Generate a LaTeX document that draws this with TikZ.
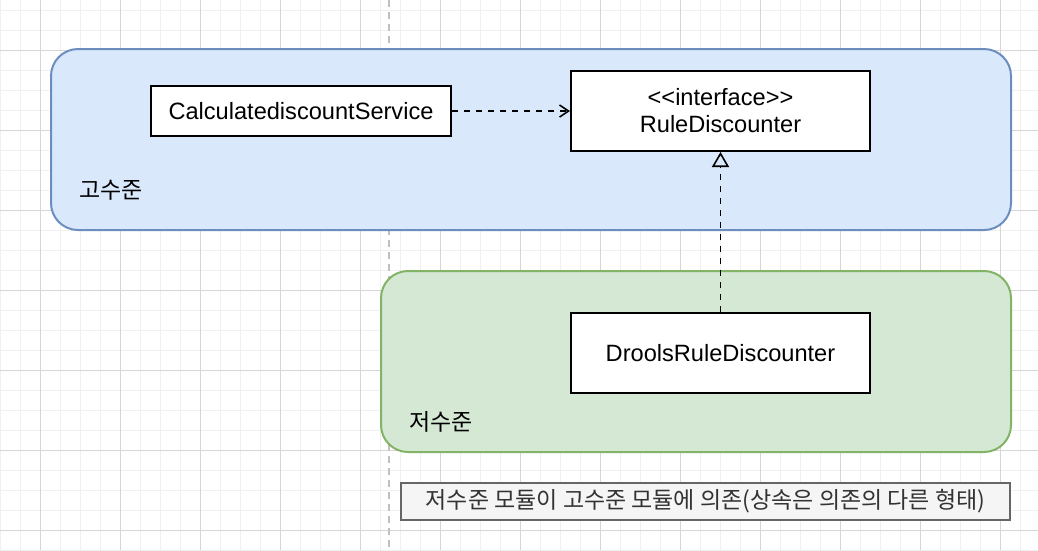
\documentclass[tikz,border=0pt]{standalone}
\usepackage{fontspec}
\setmainfont{Liberation Sans}
\newfontfamily\kr{Noto Sans CJK KR}
\usetikzlibrary{arrows.meta}
\definecolor{bluefill}{HTML}{DAE8FC}
\definecolor{bluedraw}{HTML}{6C8EBF}
\definecolor{greenfill}{HTML}{D5E8D4}
\definecolor{greendraw}{HTML}{82B366}
\definecolor{notefill}{HTML}{F5F5F5}
\definecolor{notedraw}{HTML}{666666}
\definecolor{notetext}{HTML}{333333}
\definecolor{gridminor}{HTML}{F0F0F0}
\definecolor{gridmajor}{HTML}{D6D6D6}
\definecolor{guide}{HTML}{C0C0C0}
\tikzset{
  container/.style={line width=2pt, rounded corners=27pt},
  classbox/.style={draw=black, fill=white, line width=2pt, align=center,
    font=\fontsize{23.6}{27}\selectfont, inner sep=0pt},
  lvl/.style={anchor=west, font=\kr\fontsize{23}{27}\selectfont, inner sep=0pt},
  dep/.style={line width=1.6pt, dash pattern=on 6pt off 6pt},
}
\begin{document}
\begin{tikzpicture}[x=1pt,y=-1pt]
\useasboundingbox (0,0) rectangle (1038,550);
% grid
\foreach \x in {0,20,...,1040} \draw[gridminor, line width=1pt] (\x,0) -- (\x,550);
\foreach \y in {10,30,...,550} \draw[gridminor, line width=1pt] (0,\y) -- (1038,\y);
\foreach \x in {40,120,...,1040} \draw[gridmajor, line width=1pt] (\x,0) -- (\x,550);
\foreach \y in {50,130,...,550} \draw[gridmajor, line width=1pt] (0,\y) -- (1038,\y);
% guide line
\draw[guide, line width=2pt, dash pattern=on 7pt off 5pt] (389,0) -- (389,550);
% containers
\draw[container, fill=bluefill, draw=bluedraw] (51,49) rectangle (1011,230);
\draw[container, fill=greenfill, draw=greendraw] (381,271) rectangle (1011,452);
\node[lvl] (hi) at (79,190) {고수준};
\node[lvl] (lo) at (409,422) {저수준};
% classes
\node[classbox, minimum width=300pt, minimum height=50pt] (calc) at (301,111) {CalculatediscountService};
\node[classbox, minimum width=299pt, minimum height=80pt] (rule) at (720.5,111) {<\kern0pt<interface>\kern0pt>\\RuleDiscounter};
\node[classbox, minimum width=299pt, minimum height=80pt] (drools) at (720.5,353) {DroolsRuleDiscounter};
% connectors
\draw[dep, -{Straight Barb[length=9pt, width=12pt, line width=1.6pt]}] (calc.east) -- (rule.west);
\draw[dep, -{Triangle[open, length=15pt, width=17pt, line width=1.6pt]}] (drools.north) -- (rule.south);
% note
\node[draw=notedraw, fill=notefill, line width=2pt, text=notetext, minimum width=609pt, minimum height=37pt, inner sep=0pt,
  font=\kr\fontsize{23}{27}\selectfont] (note) at (705.5,501.5) {저수준 모듈이 고수준 모듈에 의존(상속은 의존의 다른 형태)};
\end{tikzpicture}
\end{document}
